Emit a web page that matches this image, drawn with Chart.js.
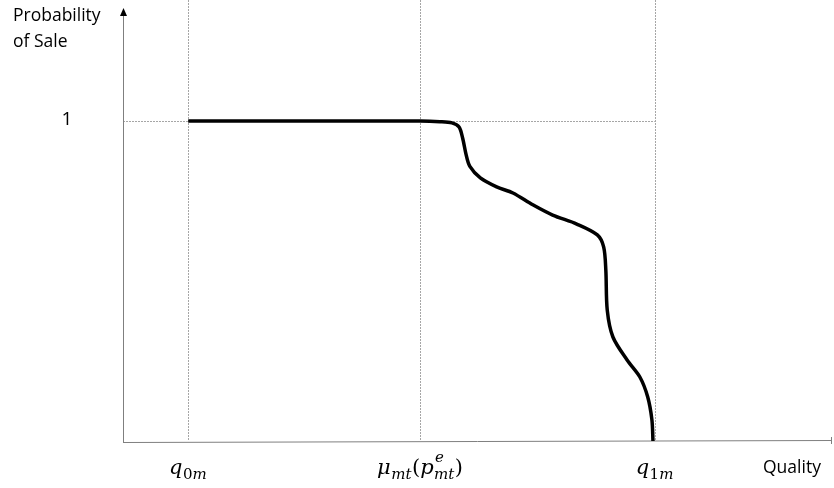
<!DOCTYPE html>
<html>
<head>
<meta charset="utf-8">
<script src="https://cdn.jsdelivr.net/npm/chart.js@4"></script>
<style>
  html, body { margin: 0; padding: 0; background: #fff; }
  #wrap { width: 834px; height: 488px; }
</style>
</head>
<body>
<div id="wrap"><canvas id="myChart"></canvas></div>
<script>
// quality (x) and probability of sale (y) along the curve
const quality = [9.2, 41.9, 44.7, 46.4, 47.4, 47.9, 48.4, 48.9, 50.4, 52.7, 55.0, 57.8,
  60.6, 64.0, 66.9, 67.8, 68.1, 68.3, 69.1, 71.1, 72.9, 74.0, 74.6, 74.75];
const saleProb = [1, 1, 0.998, 0.994, 0.981, 0.947, 0.894, 0.859, 0.822, 0.794, 0.775, 0.738,
  0.706, 0.678, 0.644, 0.606, 0.534, 0.409, 0.325, 0.253, 0.2, 0.138, 0.066, 0];

// marked quality levels: q0m, mu_mt(p^e_mt), q1m
const xTickValues = [9.2, 41.9, 75];
const xTickLabels = ["q_{0m}", "μ_{mt}(p^{e}_{mt})", "q_{1m}"];
const yTickValues = [1];
const yTickLabels = ["1"];
const yTitle = ["Probability", "of Sale"];
const xTitle = "Quality";

const points = quality.map((q, i) => ({ x: q, y: saleProb[i] }));

// split "q_{0m}" style strings into atoms with optional sub/superscripts
function parseMath(str) {
  const atoms = [];
  let i = 0;
  const group = () => {
    let s = "";
    i++; // skip _ or ^
    if (str[i] === "{") {
      i++;
      while (str[i] !== "}") s += str[i++];
      i++;
    } else {
      s = str[i++];
    }
    return s;
  };
  while (i < str.length) {
    const c = str[i];
    if (c === "_") atoms[atoms.length - 1].sub = group();
    else if (c === "^") atoms[atoms.length - 1].sup = group();
    else { atoms.push({ t: c }); i++; }
  }
  return atoms;
}

const serif = "'DejaVu Serif', 'Liberation Serif', serif";
function mathFont(ch, size) {
  const upright = /[0-9()]/.test(ch);
  return (upright ? "" : "italic ") + size + "px " + serif;
}
function textWidth(ctx, s, size) {
  let w = 0;
  for (const ch of s) { ctx.font = mathFont(ch, size); w += ctx.measureText(ch).width; }
  return w;
}
function drawRun(ctx, s, x, y, size) {
  for (const ch of s) {
    ctx.font = mathFont(ch, size);
    ctx.fillText(ch, x, y);
    x += ctx.measureText(ch).width;
  }
  return x;
}
function drawMath(ctx, str, cx, baseline) {
  const big = 21, small = 15, gap = 0.5;
  const atoms = parseMath(str);
  let total = 0;
  atoms.forEach(a => {
    a.w = textWidth(ctx, a.t, big);
    a.sw = Math.max(a.sub ? textWidth(ctx, a.sub, small) : 0, a.sup ? textWidth(ctx, a.sup, small) : 0);
    if (a.sw) a.sw += gap * 2;
    total += a.w + a.sw;
  });
  let x = cx - total / 2;
  ctx.textAlign = "left";
  ctx.textBaseline = "alphabetic";
  atoms.forEach(a => {
    drawRun(ctx, a.t, x, baseline, big);
    x += a.w;
    if (a.sub) drawRun(ctx, a.sub, x + gap, baseline + 5, small);
    if (a.sup) drawRun(ctx, a.sup, x + gap + 1, baseline - 12, small);
    x += a.sw;
  });
}

const axesPlugin = {
  id: "axesPlugin",
  beforeDatasetsDraw(chart) {
    const { ctx, chartArea, scales } = chart;
    const xs = scales.x, ys = scales.y;
    const x0 = xs.getPixelForValue(0);
    const y0 = ys.getPixelForValue(0);
    ctx.save();

    // dotted guide lines
    ctx.strokeStyle = "#a6a6a6";
    ctx.lineWidth = 1;
    ctx.setLineDash([2, 1]);
    xTickValues.forEach(v => {
      const px = Math.round(xs.getPixelForValue(v)) + 0.5;
      ctx.beginPath();
      ctx.moveTo(px, chartArea.top);
      ctx.lineTo(px, y0);
      ctx.stroke();
    });
    yTickValues.forEach(v => {
      const py = Math.round(ys.getPixelForValue(v)) + 0.5;
      ctx.beginPath();
      ctx.moveTo(x0, py);
      ctx.lineTo(xs.getPixelForValue(xTickValues[xTickValues.length - 1]), py);
      ctx.stroke();
    });
    ctx.setLineDash([]);

    // axes
    ctx.strokeStyle = "#7f7f7f";
    ctx.beginPath();
    ctx.moveTo(x0 + 0.5, y0 + 1);
    ctx.lineTo(x0 + 0.5, 14);
    ctx.stroke();
    ctx.beginPath();
    ctx.moveTo(x0, y0 + 1.5);
    ctx.lineTo(chartArea.right, y0 - 0.5);
    ctx.stroke();
    ctx.beginPath();
    ctx.moveTo(chartArea.right - 0.5, y0 - 4);
    ctx.lineTo(chartArea.right - 0.5, y0 + 3);
    ctx.stroke();

    // arrow head on the y axis
    ctx.fillStyle = "#000";
    ctx.beginPath();
    ctx.moveTo(x0 + 0.5, 8);
    ctx.lineTo(x0 - 3, 16);
    ctx.lineTo(x0 + 4, 16);
    ctx.closePath();
    ctx.fill();
    ctx.restore();
  },
  afterDraw(chart) {
    const { ctx, chartArea, scales } = chart;
    const xs = scales.x, ys = scales.y;
    ctx.save();
    ctx.fillStyle = "#000";

    xTickValues.forEach((v, i) => drawMath(ctx, xTickLabels[i], xs.getPixelForValue(v), 474));

    ctx.font = "19px 'Open Sans', sans-serif";
    ctx.textAlign = "center";
    ctx.textBaseline = "alphabetic";
    yTickValues.forEach((v, i) => ctx.fillText(yTickLabels[i], chartArea.left - 56, ys.getPixelForValue(v) + 4));

    ctx.font = "17.5px 'Open Sans', sans-serif";
    ctx.textAlign = "left";
    ctx.fillText(yTitle[0], 13, 21);
    ctx.fillText(yTitle[1], 13, 47);
    ctx.fillText(xTitle, 763, 473);
    ctx.restore();
  }
};

const ctx = document.getElementById("myChart");

new Chart(ctx, {
  type: "line",
  data: {
    datasets: [
      {
        data: points,
        borderColor: "#000",
        borderWidth: 3.5,
        pointRadius: 0,
        tension: 0.3,
        fill: false,
      },
    ],
  },
  options: {
    responsive: true,
    maintainAspectRatio: false,
    animation: false,
    layout: {
      padding: { left: 123, right: 2, top: 0, bottom: 47 },
    },
    plugins: {
      legend: { display: false },
      tooltip: { enabled: false },
    },
    scales: {
      x: { type: "linear", display: false, min: 0, max: 100 },
      y: { display: false, min: 0, max: 441 / 320 },
    },
  },
  plugins: [axesPlugin],
});
</script>
</body>
</html>
